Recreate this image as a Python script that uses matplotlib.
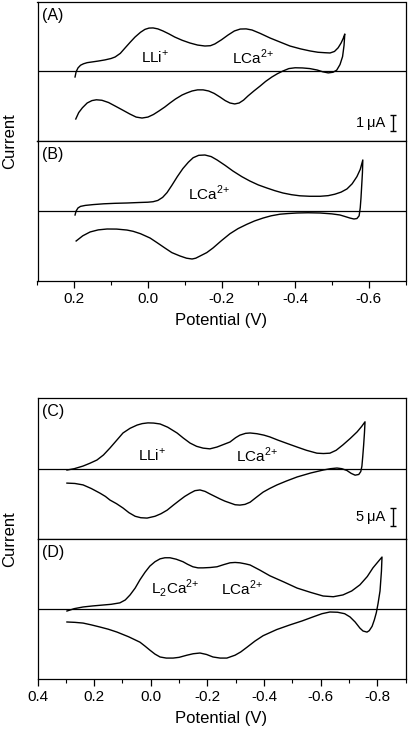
'''
  - Cyclic voltammograms, two stacked figures (A/B and C/D).
'''

import matplotlib
matplotlib.use('Agg')
from matplotlib import pyplot as plt
from matplotlib.ticker import FixedLocator, MultipleLocator

plt.rcParams['font.family'] = ['Liberation Sans', 'DejaVu Sans']
plt.rcParams['mathtext.fontset'] = 'custom'
plt.rcParams['mathtext.rm'] = 'Liberation Sans'
plt.rcParams['axes.unicode_minus'] = False

W, H = 408, 732

# ---- panel A (potential V, current uA) ----
a_fwd_v = [0.198, 0.195, 0.190, 0.183, 0.175, 0.165, 0.150, 0.135, 0.117, 0.100,
           0.089, 0.075, 0.062, 0.048, 0.035, 0.020, 0.008, -0.003, -0.014, -0.027,
           -0.041, -0.057, -0.073, -0.093, -0.114, -0.135, -0.155, -0.170, -0.182, -0.200,
           -0.218, -0.235, -0.251, -0.267, -0.283, -0.305, -0.332, -0.360, -0.386, -0.415,
           -0.441, -0.462, -0.482, -0.495, -0.507, -0.517, -0.525, -0.531, -0.535]
a_fwd_i = [-0.375, -0.05, 0.19, 0.36, 0.45, 0.52, 0.57, 0.62, 0.69, 0.78,
           0.875, 1.1, 1.44, 1.8, 2.12, 2.42, 2.6, 2.68, 2.69, 2.63,
           2.5, 2.32, 2.12, 1.92, 1.75, 1.62, 1.56, 1.58, 1.69, 1.95,
           2.25, 2.5, 2.62, 2.63, 2.56, 2.35, 2.06, 1.8, 1.56, 1.38,
           1.25, 1.17, 1.14, 1.125, 1.22, 1.45, 1.75, 2.05, 2.31]
a_rev_v = [-0.533, -0.529, -0.522, -0.513, -0.503, -0.490, -0.475, -0.460, -0.440, -0.420,
           -0.400, -0.383, -0.367, -0.352, -0.337, -0.320, -0.305, -0.288, -0.272, -0.260,
           -0.248, -0.236, -0.223, -0.210, -0.196, -0.180, -0.165, -0.150, -0.135, -0.120,
           -0.105, -0.093, -0.075, -0.060, -0.046, -0.030, -0.015, 0.000, 0.016, 0.032,
           0.049, 0.068, 0.089, 0.107, 0.125, 0.140, 0.152, 0.165, 0.178, 0.188, 0.196]
a_rev_i = [1.6, 0.9, 0.4, 0.05, -0.08, -0.12, -0.05, 0.06, 0.15, 0.19,
           0.2, 0.15, 0.0, -0.17, -0.375, -0.65, -0.94, -1.25, -1.56, -1.82,
           -2.0, -2.06, -2.0, -1.85, -1.63, -1.4, -1.25, -1.18, -1.18, -1.25,
           -1.38, -1.5, -1.75, -2.0, -2.25, -2.5, -2.72, -2.88, -2.94, -2.88,
           -2.69, -2.45, -2.19, -1.97, -1.83, -1.8, -1.85, -2.0, -2.3, -2.6, -3.0]

# ---- panel B ----
b_fwd_v = [0.198, 0.195, 0.190, 0.183, 0.170, 0.149, 0.120, 0.090, 0.057, 0.025,
           0.000, -0.014, -0.027, -0.040, -0.052, -0.065, -0.080, -0.095, -0.110, -0.123,
           -0.138, -0.155, -0.172, -0.188, -0.210, -0.231, -0.255, -0.277, -0.300, -0.323,
           -0.345, -0.367, -0.390, -0.413, -0.440, -0.468, -0.490, -0.508, -0.525, -0.541,
           -0.555, -0.568, -0.577, -0.584]
b_fwd_i = [-0.25, 0.0, 0.19, 0.29, 0.35, 0.4, 0.45, 0.48, 0.5, 0.53,
           0.55, 0.58, 0.66, 0.85, 1.15, 1.6, 2.15, 2.65, 3.05, 3.33,
           3.48, 3.5, 3.4, 3.19, 2.85, 2.5, 2.15, 1.875, 1.63, 1.44,
           1.27, 1.125, 1.02, 0.95, 0.92, 0.92, 0.96, 1.05, 1.18, 1.38,
           1.7, 2.15, 2.6, 3.19]
b_rev_v = [-0.583, -0.581, -0.579, -0.577, -0.574, -0.568, -0.560, -0.549, -0.535, -0.522,
           -0.500, -0.468, -0.435, -0.405, -0.380, -0.359, -0.335, -0.313, -0.290, -0.269,
           -0.245, -0.223, -0.200, -0.177, -0.160, -0.142, -0.130, -0.120, -0.105, -0.087,
           -0.065, -0.046, -0.025, -0.006, 0.020, 0.040, 0.057, 0.085, 0.111, 0.135,
           0.157, 0.177, 0.195]
b_rev_i = [2.4, 1.6, 0.8, 0.2, -0.3, -0.47, -0.5, -0.44, -0.34, -0.25,
           -0.18, -0.125, -0.11, -0.125, -0.16, -0.2, -0.3, -0.44, -0.62, -0.83,
           -1.1, -1.42, -1.85, -2.31, -2.6, -2.81, -2.95, -3.0, -2.95, -2.81,
           -2.6, -2.31, -1.98, -1.69, -1.42, -1.27, -1.19, -1.13, -1.125, -1.18,
           -1.31, -1.55, -1.875]

# ---- panel C ----
c_fwd_v = [0.296, 0.270, 0.239, 0.215, 0.190, 0.167, 0.144, 0.120, 0.098, 0.073,
           0.048, 0.030, 0.010, -0.010, -0.033, -0.060, -0.093, -0.115, -0.139, -0.162,
           -0.185, -0.209, -0.234, -0.257, -0.280, -0.300, -0.315, -0.335, -0.351, -0.375,
           -0.400, -0.421, -0.450, -0.485, -0.517, -0.550, -0.587, -0.610, -0.633, -0.655,
           -0.679, -0.705, -0.729, -0.745, -0.757]
c_fwd_i = [-0.28, 0.1, 0.83, 1.6, 2.5, 3.9, 5.83, 8.0, 10.0, 11.3,
           12.2, 12.6, 12.8, 12.75, 12.5, 11.6, 10.0, 8.6, 7.2, 6.3,
           5.8, 5.6, 6.1, 6.8, 7.5, 8.7, 9.4, 9.9, 10.0, 9.8,
           9.4, 8.9, 8.0, 7.0, 6.1, 5.2, 4.4, 4.3, 4.4, 5.2,
           6.7, 8.5, 10.3, 11.8, 13.1]
c_rev_v = [-0.755, -0.752, -0.749, -0.746, -0.742, -0.735, -0.722, -0.708, -0.693, -0.675,
           -0.658, -0.635, -0.609, -0.565, -0.517, -0.480, -0.446, -0.420, -0.397, -0.372,
           -0.351, -0.333, -0.315, -0.298, -0.280, -0.262, -0.245, -0.227, -0.209, -0.192,
           -0.174, -0.156, -0.139, -0.120, -0.103, -0.080, -0.058, -0.036, -0.015, 0.013,
           0.035, 0.055, 0.077, 0.098, 0.121, 0.144, 0.160, 0.179, 0.210, 0.239,
           0.268, 0.296]
c_rev_i = [10.0, 6.5, 3.5, 0.8, -0.7, -1.5, -1.7, -1.2, -0.4, 0.1,
           0.28, 0.1, -0.28, -1.1, -2.2, -3.3, -4.4, -5.4, -6.4, -7.9,
           -9.2, -9.8, -10.0, -9.9, -9.4, -8.9, -8.3, -7.6, -6.9, -6.2,
           -5.8, -6.0, -6.7, -7.6, -8.6, -10.0, -11.4, -12.4, -13.1, -13.6,
           -13.5, -13.1, -12.1, -10.8, -9.6, -8.6, -7.6, -6.7, -5.4, -4.4,
           -4.0, -3.9]

# ---- panel D ----
d_fwd_v = [0.296, 0.270, 0.239, 0.205, 0.169, 0.140, 0.109, 0.090, 0.073, 0.055,
           0.038, 0.020, 0.003, -0.015, -0.033, -0.050, -0.068, -0.090, -0.114, -0.130,
           -0.149, -0.167, -0.185, -0.210, -0.234, -0.258, -0.280, -0.298, -0.315, -0.335,
           -0.351, -0.385, -0.421, -0.470, -0.517, -0.565, -0.609, -0.645, -0.679, -0.710,
           -0.739, -0.765, -0.785, -0.802, -0.817]
d_fwd_i = [-0.56, 0.1, 0.56, 0.85, 1.1, 1.3, 1.7, 2.5, 3.9, 5.8,
           8.1, 10.2, 11.9, 13.1, 13.9, 14.2, 14.2, 13.8, 13.1, 12.4,
           11.7, 11.4, 11.4, 11.5, 11.7, 12.3, 12.8, 12.9, 12.8, 12.5,
           12.2, 10.8, 9.2, 7.5, 5.8, 4.6, 3.6, 3.4, 3.9, 5.0,
           6.7, 9.0, 11.4, 13.0, 14.4]
d_rev_v = [-0.815, -0.810, -0.803, -0.797, -0.790, -0.782, -0.772, -0.764, -0.750, -0.739,
           -0.722, -0.704, -0.685, -0.660, -0.633, -0.605, -0.573, -0.535, -0.492, -0.445,
           -0.397, -0.368, -0.340, -0.318, -0.298, -0.269, -0.245, -0.220, -0.197, -0.174,
           -0.150, -0.128, -0.100, -0.079, -0.055, -0.033, -0.015, 0.003, 0.020, 0.038,
           0.078, 0.119, 0.150, 0.179, 0.210, 0.239, 0.268, 0.296]
d_rev_i = [10.5, 5.0, 1.5, -1.0, -3.0, -4.8, -6.0, -6.4, -6.1, -5.3,
           -3.6, -2.2, -1.3, -0.9, -0.83, -1.3, -2.2, -3.3, -4.4, -5.7,
           -7.4, -8.9, -10.6, -11.9, -12.8, -13.6, -13.6, -13.3, -12.6, -12.2,
           -12.4, -12.8, -13.4, -13.6, -13.6, -13.3, -12.5, -11.4, -10.3, -9.2,
           -7.7, -6.4, -5.6, -5.0, -4.4, -3.9, -3.7, -3.6]

top_ticks = [0.2, 0.0, -0.2, -0.4, -0.6]
bot_ticks = [0.4, 0.2, 0.0, -0.2, -0.4, -0.6, -0.8]


def box(top, bottom):
    # pixel rows -> figure fraction
    return [37.5 / W, 1 - bottom / H, 368.0 / W, (bottom - top) / H]


def panel(fig, rect, fv, fi, rv, ri, xlim, ylim, tag):
    ax = fig.add_axes(rect)
    ax.plot(fv + rv, fi + ri, color='k', lw=1.0, solid_joinstyle='round')
    ax.axhline(0, color='k', lw=0.9)
    ax.set_xlim(xlim)
    ax.set_ylim(ylim)
    ax.set_xticks([])
    ax.set_yticks([])
    for s in ax.spines.values():
        s.set_linewidth(0.9)
    ax.text(0.012, 0.955, tag, transform=ax.transAxes, ha='left', va='top', fontsize=11.5)
    return ax


def bottom_axis(ax, ticks, minor):
    ax.xaxis.set_major_locator(FixedLocator(ticks))
    ax.set_xticklabels(['%.1f' % t for t in ticks])
    ax.xaxis.set_minor_locator(MultipleLocator(minor))
    ax.tick_params(axis='x', which='major', direction='out', length=5, width=0.9,
                   labelsize=11, pad=3)
    ax.tick_params(axis='x', which='minor', direction='out', length=3, width=0.8)
    ax.set_xlabel('Potential (V)', fontsize=12, labelpad=5)


def scale_bar(ax, x, y, half, label):
    ax.errorbar([x], [y], yerr=[half], color='k', lw=1.0, capsize=2.5, capthick=1.0)
    ax.text(x + 0.022 * (ax.get_xlim()[0] - ax.get_xlim()[1]), y, label,
            ha='right', va='center', fontsize=10.5)


fig = plt.figure(figsize=(W / 100.0, H / 100.0), dpi=100)

ax_a = panel(fig, box(2, 141), a_fwd_v, a_fwd_i, a_rev_v, a_rev_i, (0.3, -0.7), (-4.375, 4.31), '(A)')
ax_b = panel(fig, box(141, 281), b_fwd_v, b_fwd_i, b_rev_v, b_rev_i, (0.3, -0.7), (-4.375, 4.375), '(B)')
ax_c = panel(fig, box(398, 539), c_fwd_v, c_fwd_i, c_rev_v, c_rev_i, (0.4, -0.9), (-19.4, 19.7), '(C)')
ax_d = panel(fig, box(539, 679), d_fwd_v, d_fwd_i, d_rev_v, d_rev_i, (0.4, -0.9), (-19.4, 19.4), '(D)')

bottom_axis(ax_b, top_ticks, 0.1)
bottom_axis(ax_d, bot_ticks, 0.1)

# peak labels
ax_a.text(-0.02, 0.875, r'LLi$^{+}$', ha='center', va='center', fontsize=11)
ax_a.text(-0.286, 0.875, r'LCa$^{2{+}}$', ha='center', va='center', fontsize=11)
ax_b.text(-0.166, 1.125, r'LCa$^{2{+}}$', ha='center', va='center', fontsize=11)
ax_c.text(-0.005, 3.9, r'LLi$^{+}$', ha='center', va='center', fontsize=11)
ax_c.text(-0.376, 3.9, r'LCa$^{2{+}}$', ha='center', va='center', fontsize=11)
ax_d.text(-0.086, 5.8, r'L$_{2}$Ca$^{2{+}}$', ha='center', va='center', fontsize=11)
ax_d.text(-0.323, 5.8, r'LCa$^{2{+}}$', ha='center', va='center', fontsize=11)

scale_bar(ax_a, -0.666, -3.25, 0.5, u'1\u2009\u03bcA')
scale_bar(ax_c, -0.856, -13.3, 2.5, u'5\u2009\u03bcA')

fig.text(10.0 / W, 1 - 141.0 / H, 'Current', rotation=90, ha='center', va='center', fontsize=12)
fig.text(10.0 / W, 1 - 539.0 / H, 'Current', rotation=90, ha='center', va='center', fontsize=12)

plt.savefig('out.png', dpi=100)
